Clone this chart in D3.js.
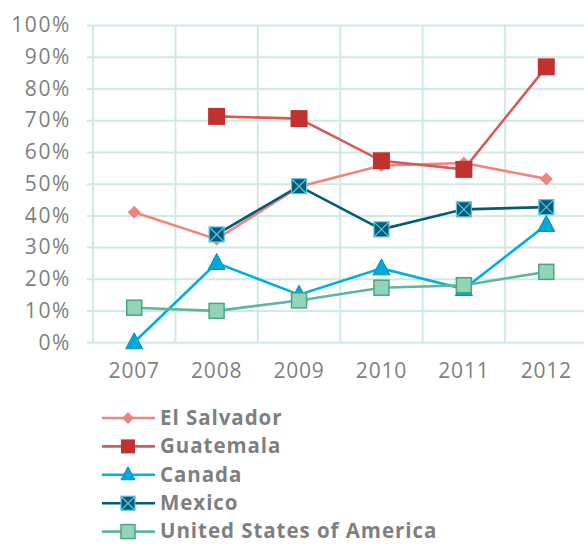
<!DOCTYPE html>
<html>
<head>
<meta charset="utf-8">
<script src="https://cdn.jsdelivr.net/npm/d3@7"></script>
<style>
  html, body { margin: 0; padding: 0; background: #fff; }
  svg { display: block; }
  text { font-family: "Open Sans", "Noto Sans", sans-serif; fill: #7f7f7f; }
</style>
</head>
<body>
<svg id="chart" width="584" height="544"></svg>
<script>
// Survey years on the x axis
const years = ["2007", "2008", "2009", "2010", "2011", "2012"];
// Percent tick values on the y axis
const yTicks = [0, 0.1, 0.2, 0.3, 0.4, 0.5, 0.6, 0.7, 0.8, 0.9, 1.0];

// Share per country and year (null = no data)
const elSalvador = [0.41, 0.325, 0.49, 0.557, 0.565, 0.515];
const guatemala  = [null, 0.712, 0.705, 0.572, 0.545, 0.868];
const canada     = [0.0, 0.25, 0.15, 0.233, 0.168, 0.37];
const mexico     = [null, 0.34, 0.492, 0.356, 0.419, 0.426];
const usa        = [0.109, 0.099, 0.132, 0.172, 0.18, 0.222];

const seriesNames = ["El Salvador", "Guatemala", "Canada", "Mexico", "United States of America"];
const seriesValues = [elSalvador, guatemala, canada, mexico, usa];

const styles = {
  "El Salvador": { line: "#f08580", fill: "#f08580", stroke: "none", shape: "diamond", size: 13 },
  "Guatemala": { line: "#d35b5b", fill: "#c0312f", stroke: "none", shape: "square", size: 17 },
  "Canada": { line: "#00b0e0", fill: "#00a9dc", stroke: "#0a8db8", shape: "triangle", size: 17 },
  "Mexico": { line: "#005c78", fill: "#005c78", stroke: "#5cc3e0", shape: "xsquare", size: 15 },
  "United States of America": { line: "#5db79c", fill: "#93d3b6", stroke: "#4aa587", shape: "square", size: 15 }
};

const svg = d3.select("#chart");

const x = d3.scaleBand().domain(years).range([93, 587.5]).paddingInner(0).paddingOuter(0);
const y = d3.scaleLinear().domain([0, 1]).range([342.3, 25]);

const grid = "#cfeae0";

// Horizontal gridlines with short outward ticks
const yAxis = d3.axisLeft(y).tickValues(yTicks).tickFormat(d3.format(".0%"))
  .tickSize(-(587.5 - 87)).tickPadding(16);
const gy = svg.append("g").attr("transform", "translate(87,0)").call(yAxis);
gy.select(".domain").remove();
gy.selectAll(".tick line").attr("stroke", grid).attr("stroke-width", 2);
gy.selectAll(".tick text").attr("font-size", 21).attr("fill", "#7f7f7f")
  .style("font-family", '"Open Sans", sans-serif').style("letter-spacing", "1.6px").attr("x", -16);

// Vertical gridlines at category boundaries
const bounds = years.map(yr => x(yr)).concat([x(years[years.length - 1]) + x.bandwidth()]);
svg.append("g").selectAll("line").data(bounds).join("line")
  .attr("x1", d => d).attr("x2", d => d)
  .attr("y1", y(1)).attr("y2", y(0))
  .attr("stroke", grid).attr("stroke-width", 2);

// X axis labels
const xAxis = d3.axisBottom(x).tickSize(0).tickPadding(21);
const gx = svg.append("g").attr("transform", `translate(0,${y(0)})`).call(xAxis);
gx.select(".domain").remove();
gx.selectAll(".tick text").attr("font-size", 21).attr("fill", "#7f7f7f")
  .style("font-family", '"Open Sans", sans-serif').style("letter-spacing", "0.8px");

function cx(i) { return x(years[i]) + x.bandwidth() / 2; }

function drawMarker(g, st, px, py) {
  const s = st.size, h = s / 2;
  if (st.shape === "diamond") {
    g.append("path").attr("d", `M${px},${py - h}L${px + h},${py}L${px},${py + h}L${px - h},${py}Z`)
      .attr("fill", st.fill);
  } else if (st.shape === "square") {
    g.append("rect").attr("x", px - h).attr("y", py - h).attr("width", s).attr("height", s)
      .attr("fill", st.fill).attr("stroke", st.stroke).attr("stroke-width", st.stroke === "none" ? 0 : 1.5);
  } else if (st.shape === "triangle") {
    g.append("path").attr("d", `M${px},${py - h - 1}L${px + h},${py + h - 2}L${px - h},${py + h - 2}Z`)
      .attr("fill", st.fill).attr("stroke", st.stroke).attr("stroke-width", 1);
  } else if (st.shape === "xsquare") {
    g.append("rect").attr("x", px - h).attr("y", py - h).attr("width", s).attr("height", s)
      .attr("fill", st.fill).attr("stroke", st.stroke).attr("stroke-width", 1.2);
    g.append("path").attr("d", `M${px - h},${py - h}L${px + h},${py + h}M${px + h},${py - h}L${px - h},${py + h}`)
      .attr("stroke", st.stroke).attr("stroke-width", 1.3);
  }
}

// Series lines and markers, drawn in legend order
seriesNames.forEach((name, si) => {
  const st = styles[name];
  const vals = seriesValues[si];
  const g = svg.append("g");
  const line = d3.line().defined(d => d != null).x((d, i) => cx(i)).y(d => y(d));
  g.append("path").datum(vals).attr("d", line)
    .attr("fill", "none").attr("stroke", st.line).attr("stroke-width", 2.6);
  vals.forEach((v, i) => { if (v != null) drawMarker(g, st, cx(i), y(v)); });
});

// Legend
const legendY0 = 418, legendStep = 28.4;
seriesNames.forEach((name, i) => {
  const st = styles[name];
  const ly = legendY0 + i * legendStep;
  const g = svg.append("g");
  g.append("line").attr("x1", 102).attr("x2", 155).attr("y1", ly).attr("y2", ly)
    .attr("stroke", st.line).attr("stroke-width", 2.6);
  drawMarker(g, Object.assign({}, st, { size: st.shape === "diamond" ? 12 : 14 }), 128, ly);
  g.append("text").attr("x", 160).attr("y", ly).attr("dy", "0.33em")
    .attr("font-size", 20.5).attr("font-weight", "bold").attr("fill", "#7f7f7f")
    .style("letter-spacing", "0.95px").text(name);
});
</script>
</body>
</html>
